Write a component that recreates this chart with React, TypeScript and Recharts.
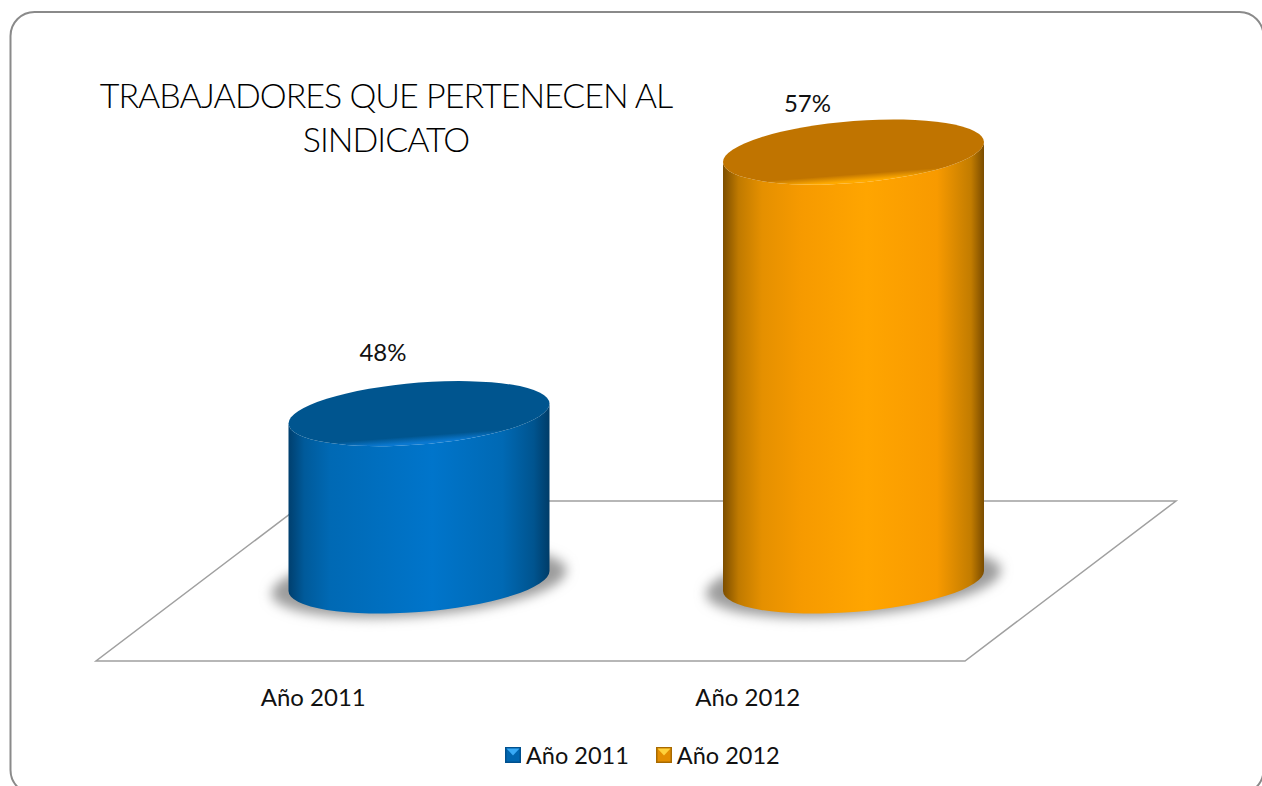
import React from "react";
import { BarChart, Bar, XAxis, YAxis, Legend, LabelList } from "recharts";

const categories = ["Año 2011", "Año 2012"];
const values2011 = [48, null];
const values2012 = [null, 57];
const titleLines = ["TRABAJADORES QUE PERTENECEN AL", "SINDICATO"];

const rows = categories.map((name, i) => ({
  name,
  y2011: values2011[i],
  y2012: values2012[i],
}));

const FONT = "Lato, 'Open Sans', sans-serif";
const W = 1262;
const H = 786;
const DEPTH_X = 105.5;
const DEPTH_Y = 80;
const RY_T = 31;
const SHEAR = 10 / 130.5;

const palette: Record<string, { body: string; top: string; rim: string; icon: string[] }> = {
  blue: { body: "url(#bodyBlue)", top: "#00558f", rim: "url(#rimBlue)", icon: ["#00508e", "#0066b0", "#38aaf6"] },
  orange: { body: "url(#bodyOrange)", top: "#c07400", rim: "url(#rimOrange)", icon: ["#a86a00", "#e48e00", "#ffd23c"] },
};

function Cylinder(props: any) {
  const { x, y, width, height, value, tone } = props;
  if (value == null || !height) return null;
  const cx = x + width / 2 + DEPTH_X;
  const top = y - DEPTH_Y;
  const bot = y + height - DEPTH_Y;
  const a = width / 2;
  const c = palette[tone];
  const body = `M ${-a} ${top} L ${-a} ${bot} A ${a} ${RY_T} 0 0 0 ${a} ${bot} L ${a} ${top} A ${a} ${RY_T} 0 0 1 ${-a} ${top} Z`;
  return (
    <g transform={`matrix(1 ${-SHEAR} 0 1 ${cx} 0)`}>
      <ellipse cx={0} cy={bot + 1} rx={a + 17} ry={RY_T + 3} fill="#9c9c9c" filter="url(#cylShadow)" />
      <path d={body} fill={c.body} />
      <ellipse cx={0} cy={top} rx={a} ry={RY_T} fill={c.rim} />
    </g>
  );
}

const makeLabel = (dx: number, dy: number) => (props: any) => {
  const { x, y, width, value } = props;
  if (value == null) return null;
  return (
    <text x={x + width / 2 + DEPTH_X + dx} y={y - DEPTH_Y + dy} textAnchor="middle" dominantBaseline="central" fontFamily={FONT} fontSize={24} fill="#111">
      {value}%
    </text>
  );
};

function LegendIcon({ colors }: { colors: string[] }) {
  return (
    <svg width={16} height={16} style={{ display: "block" }}>
      <rect x={0} y={0} width={16} height={16} fill={colors[0]} />
      <rect x={1.5} y={1.5} width={13} height={13} fill={colors[1]} />
      <polygon points="1.5,1.5 14.5,1.5 8,8.5" fill={colors[2]} />
    </svg>
  );
}

function LegendContent(props: any) {
  const tones = ["blue", "orange"];
  return (
    <div style={{ display: "flex", alignItems: "center", fontFamily: FONT, fontSize: 23.5, color: "#111", lineHeight: "30px" }}>
      {(props.payload || []).map((p: any, i: number) => (
        <div key={p.value} style={{ display: "flex", alignItems: "center", marginRight: 27 }}>
          <LegendIcon colors={palette[tones[i]].icon} />
          <span style={{ marginLeft: 5 }}>{p.value}</span>
        </div>
      ))}
    </div>
  );
}

export default function App() {
  return (
    <div style={{ position: "fixed", left: 0, top: 0, width: W, height: H, background: "#fff", overflow: "hidden" }}>
      <BarChart
        width={W}
        height={H}
        data={rows}
        margin={{ top: 203, right: 297, bottom: 85, left: 96 }}
        barSize={261}
        barGap={-261}
      >
        <defs>
          <linearGradient id="bodyBlue" x1="0" x2="1" y1="0" y2="0">
            <stop offset="0" stopColor="#003f6e" />
            <stop offset="0.06" stopColor="#005a9a" />
            <stop offset="0.16" stopColor="#0069b4" />
            <stop offset="0.55" stopColor="#0075cb" />
            <stop offset="0.82" stopColor="#0069b4" />
            <stop offset="0.94" stopColor="#00548f" />
            <stop offset="1" stopColor="#003c68" />
          </linearGradient>
          <linearGradient id="bodyOrange" x1="0" x2="1" y1="0" y2="0">
            <stop offset="0" stopColor="#7c4e00" />
            <stop offset="0.06" stopColor="#c07a00" />
            <stop offset="0.15" stopColor="#e59000" />
            <stop offset="0.3" stopColor="#f69a00" />
            <stop offset="0.55" stopColor="#ffa500" />
            <stop offset="0.82" stopColor="#f89a00" />
            <stop offset="0.95" stopColor="#c27c00" />
            <stop offset="1" stopColor="#7a4c00" />
          </linearGradient>
          <linearGradient id="rimBlue" x1="0" x2="0" y1="0" y2="1">
            <stop offset="0" stopColor="#00558f" />
            <stop offset="0.86" stopColor="#00558f" />
            <stop offset="0.97" stopColor="#0a78d0" />
            <stop offset="1" stopColor="#0a78d0" />
          </linearGradient>
          <linearGradient id="rimOrange" x1="0" x2="0" y1="0" y2="1">
            <stop offset="0" stopColor="#c07400" />
            <stop offset="0.86" stopColor="#c07400" />
            <stop offset="0.97" stopColor="#ffaa00" />
            <stop offset="1" stopColor="#ffaa00" />
          </linearGradient>
          <filter id="cylShadow" x="-20%" y="-60%" width="140%" height="220%">
            <feGaussianBlur stdDeviation="6" />
          </filter>
        </defs>
        <rect x={10.5} y={12} width={1253} height={782} rx={24} ry={24} fill="#fff" stroke="#8a8a8a" strokeWidth={2} />
        <polygon points="96,661 965,661 1176,501 307,501" fill="#fff" stroke="#a0a0a0" strokeWidth={1.5} />
        <XAxis
          dataKey="name"
          axisLine={false}
          tickLine={false}
          height={40}
          tickMargin={22}
          tick={{ fontFamily: FONT, fontSize: 24, fill: "#111" }}
        />
        <YAxis hide domain={[42.24, 58]} />
        <Bar dataKey="y2011" name="Año 2011" fill="#0070c0" isAnimationActive={false} shape={(p: any) => <Cylinder {...p} tone="blue" />}>
          <LabelList dataKey="y2011" content={makeLabel(-36, -62)} />
        </Bar>
        <Bar dataKey="y2012" name="Año 2012" fill="#ffa500" isAnimationActive={false} shape={(p: any) => <Cylinder {...p} tone="orange" />}>
          <LabelList dataKey="y2012" content={makeLabel(-46, -50)} />
        </Bar>
        <Legend
          layout="horizontal"
          verticalAlign="middle"
          align="center"
          content={<LegendContent />}
          wrapperStyle={{ left: 505, top: 740, width: 320, height: 30 }}
        />
        <text textAnchor="middle" fontFamily={FONT} fontWeight={300} fontSize={34} letterSpacing={-1} fill="#000">
          <tspan x={386} y={108}>{titleLines[0]}</tspan>
          <tspan x={386} y={152}>{titleLines[1]}</tspan>
        </text>
      </BarChart>
    </div>
  );
}
